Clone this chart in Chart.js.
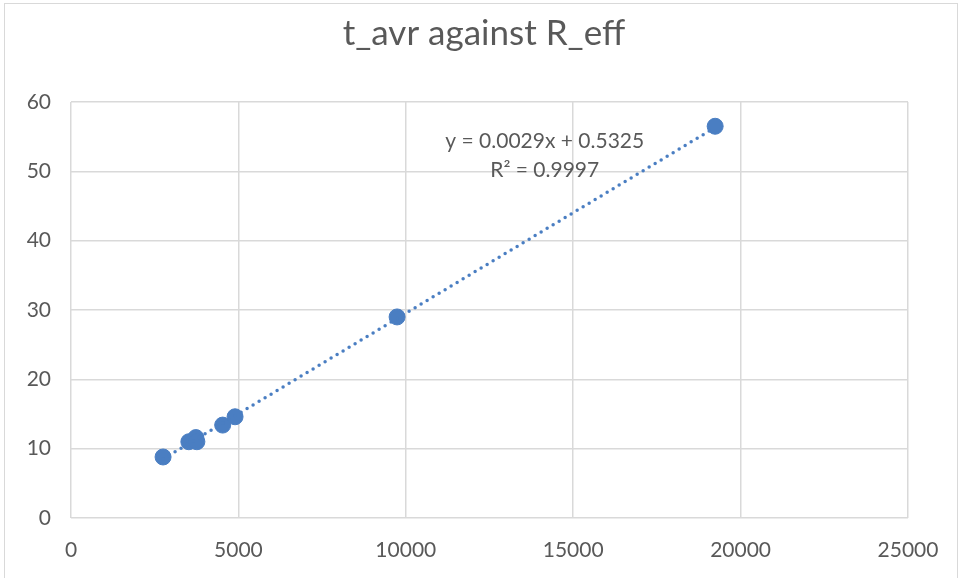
<!DOCTYPE html>
<html>
<head>
<meta charset="utf-8">
<script src="https://cdn.jsdelivr.net/npm/chart.js@4.4.1/dist/chart.umd.min.js"></script>
<style>
  html, body { margin: 0; padding: 0; background: #fff; }
  canvas { display: block; }
</style>
</head>
<body>
<canvas id="chart" width="960" height="578"></canvas>
<script>
// Data
const rEff = [2750, 3520, 3730, 3760, 4530, 4900, 9740, 19240];
const tAvr = [8.8, 11.0, 11.6, 11.0, 13.4, 14.6, 29.0, 56.5];

// Linear trendline as printed on the chart
const trendSlope = 0.0029;
const trendIntercept = 0.5325;
const trendLabel = ['y = 0.0029x + 0.5325', 'R\u00B2 = 0.9997'];

const xMin = 0, xMax = 25000, xStep = 5000;
const yMin = 0, yMax = 60, yStep = 10;

const textColor = '#595959';
const gridColor = '#d9d9d9';
const pointColor = '#4a7ec2';

const points = rEff.map((x, i) => ({ x: x, y: tAvr[i] }));
const xLo = Math.min(...rEff), xHi = Math.max(...rEff);
const trendPoints = [xLo, xHi].map(x => ({ x: x, y: trendSlope * x + trendIntercept }));

// frame around the chart + trendline label
const extras = {
  id: 'extras',
  beforeDraw(chart) {
    const ctx = chart.ctx;
    ctx.save();
    ctx.strokeStyle = gridColor;
    ctx.lineWidth = 1;
    ctx.strokeRect(4.5, 3.5, 953, 600);
    ctx.restore();
  },
  afterDraw(chart) {
    const ctx = chart.ctx;
    const xs = chart.scales.x, ys = chart.scales.y;
    ctx.save();
    ctx.fillStyle = textColor;
    ctx.font = '21px Lato';
    ctx.textAlign = 'center';
    ctx.textBaseline = 'middle';
    const cx = xs.getPixelForValue(14150);
    ctx.fillText(trendLabel[0], cx, ys.getPixelForValue(54.4));
    ctx.fillText(trendLabel[1], cx, ys.getPixelForValue(50.2));
    ctx.restore();
  }
};

new Chart(document.getElementById('chart'), {
  type: 'scatter',
  data: {
    datasets: [
      {
        label: 'Trendline',
        type: 'line',
        data: trendPoints,
        borderColor: pointColor,
        borderWidth: 3.5,
        borderDash: [0, 7],
        borderCapStyle: 'round',
        pointRadius: 0,
        fill: false,
        order: 0
      },
      {
        label: 't_avr',
        data: points,
        backgroundColor: pointColor,
        borderColor: pointColor,
        pointRadius: 8,
        pointHoverRadius: 8,
        order: 1
      }
    ]
  },
  options: {
    responsive: false,
    animation: false,
    layout: { padding: { left: 8, right: 0, top: 0, bottom: 0 } },
    plugins: {
      legend: { display: false },
      tooltip: { enabled: false },
      title: {
        display: true,
        text: 't_avr against R_eff',
        color: textColor,
        font: { family: 'Lato', size: 35, weight: 'normal' },
        padding: { top: 13, bottom: 47 }
      }
    },
    scales: {
      x: {
        type: 'linear',
        min: xMin, max: xMax,
        grid: { color: gridColor, lineWidth: 1.5, drawTicks: false },
        border: { display: false },
        ticks: {
          stepSize: xStep,
          color: textColor,
          font: { family: 'Lato', size: 21 },
          padding: 20,
          maxRotation: 0,
          callback: v => String(v)
        },
        afterFit(scale) { scale.height = 60; }
      },
      y: {
        min: yMin, max: yMax,
        grid: { color: gridColor, lineWidth: 1.5, drawTicks: false },
        border: { display: false },
        ticks: {
          stepSize: yStep,
          color: textColor,
          font: { family: 'Lato', size: 21 },
          padding: 20
        },
        afterFit(scale) { scale.width = 63; }
      },
      // empty right-hand axis that only reserves space so the title centres on the full width
      yRight: {
        position: 'right',
        min: yMin, max: yMax,
        grid: { display: false, drawTicks: false },
        border: { display: false },
        ticks: { display: false },
        afterFit(scale) { scale.width = 52; }
      }
    }
  },
  plugins: [extras]
});
</script>
</body>
</html>
